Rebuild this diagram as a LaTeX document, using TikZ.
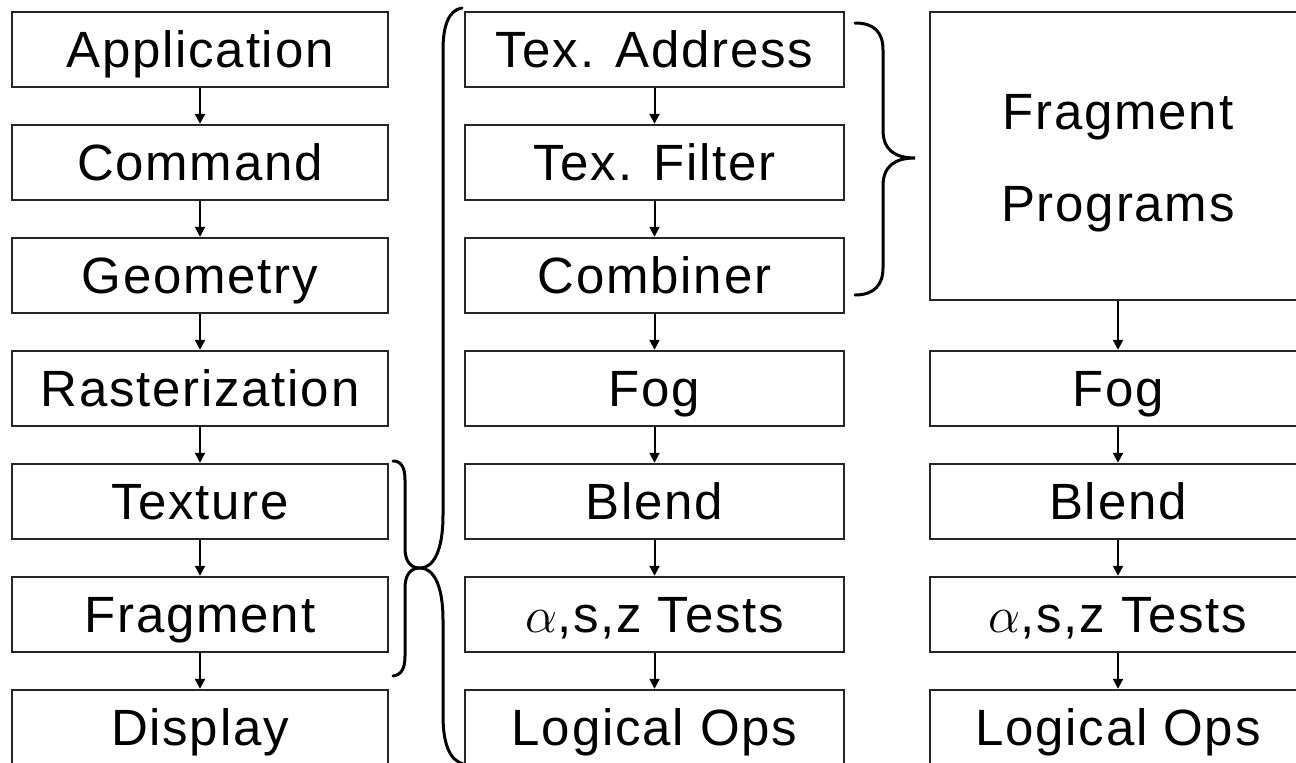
\RequirePackage{fix-cm}
\documentclass[tikz,border=0pt]{standalone}
\usepackage{fontspec}
\setmainfont[LetterSpace=3.5]{Liberation Sans}
\usetikzlibrary{arrows.meta}
\tikzset{
  stage/.style={draw=black!85, line width=2.4pt, rectangle, minimum width=376pt, minimum height=75pt,
    inner sep=0pt, font=\fontsize{51}{92}\selectfont, text height=36pt, text depth=0pt},
  flow/.style={line width=2pt, -{Triangle[length=10pt,width=10pt]}},
  bracepath/.style={line width=3pt, line cap=round}
}
\begin{document}
\begin{tikzpicture}[x=1pt,y=-1pt]
\useasboundingbox (0,0) rectangle (1296,763);
\clip (0,0) rectangle (1296,763);
% left column
\node[stage] (app) at (200,49.5) {Application};
\node[stage] (cmd) at (200,162.5) {Command};
\node[stage] (geo) at (200,275.5) {Geometry};
\node[stage] (ras) at (200,388.5) {Rasterization};
\node[stage] (tex) at (200,501.5) {Texture};
\node[stage] (frag) at (200,614.5) {Fragment};
\node[stage] (disp) at (200,727.5) {Display};
% middle column
\node[stage, minimum width=379pt] (taddr) at (654.5,49.5) {Tex. Address};
\node[stage, minimum width=379pt] (tfilt) at (654.5,162.5) {Tex. Filter};
\node[stage, minimum width=379pt] (comb) at (654.5,275.5) {Combiner};
\node[stage, minimum width=379pt] (fogm) at (654.5,388.5) {Fog};
\node[stage, minimum width=379pt] (blendm) at (654.5,501.5) {Blend};
\node[stage, minimum width=379pt] (testm) at (654.5,614.5) {$\alpha$,s,z Tests};
\node[stage, minimum width=379pt] (logm) at (654.5,727.5) {Logical Ops};
% right column
\node[stage, minimum height=288pt] (fp) at (1118,156) {};
\node[font=\fontsize{51}{92}\selectfont, align=center, inner sep=0pt] (fpt) at (1118,163) {Fragment\\Programs};
\node[stage] (fogr) at (1118,388.5) {Fog};
\node[stage] (blendr) at (1118,501.5) {Blend};
\node[stage] (testr) at (1118,614.5) {$\alpha$,s,z Tests};
\node[stage] (logr) at (1118,727.5) {Logical Ops};
% arrows
\draw[flow] (app) -- (cmd);
\draw[flow] (cmd) -- (geo);
\draw[flow] (geo) -- (ras);
\draw[flow] (ras) -- (tex);
\draw[flow] (tex) -- (frag);
\draw[flow] (frag) -- (disp);
\draw[flow] (taddr) -- (tfilt);
\draw[flow] (tfilt) -- (comb);
\draw[flow] (comb) -- (fogm);
\draw[flow] (fogm) -- (blendm);
\draw[flow] (blendm) -- (testm);
\draw[flow] (testm) -- (logm);
\draw[flow] (fp) -- (fogr);
\draw[flow] (fogr) -- (blendr);
\draw[flow] (blendr) -- (testr);
\draw[flow] (testr) -- (logr);
% braces
\draw[bracepath] (393,461) .. controls (401,461) and (405,467) .. (405,480) -- (405,548)
  .. controls (405,562) and (411,568) .. (420,568)
  .. controls (411,568) and (405,574) .. (405,588) -- (405,656)
  .. controls (405,669) and (401,675) .. (393,676);
\draw[bracepath] (462,8) .. controls (449,10) and (443,25) .. (443,50) -- (443,515)
  .. controls (443,552) and (433,568) .. (420,568)
  .. controls (433,568) and (443,584) .. (443,620) -- (443,715)
  .. controls (443,745) and (450,760) .. (463,764);
\draw[bracepath] (855,23) .. controls (874,23) and (883,32) .. (883,50) -- (883,130)
  .. controls (883,150) and (895,158) .. (915,158)
  .. controls (895,158) and (883,166) .. (883,186) -- (883,268)
  .. controls (883,285) and (874,295) .. (855,295);
\end{tikzpicture}
\end{document}
